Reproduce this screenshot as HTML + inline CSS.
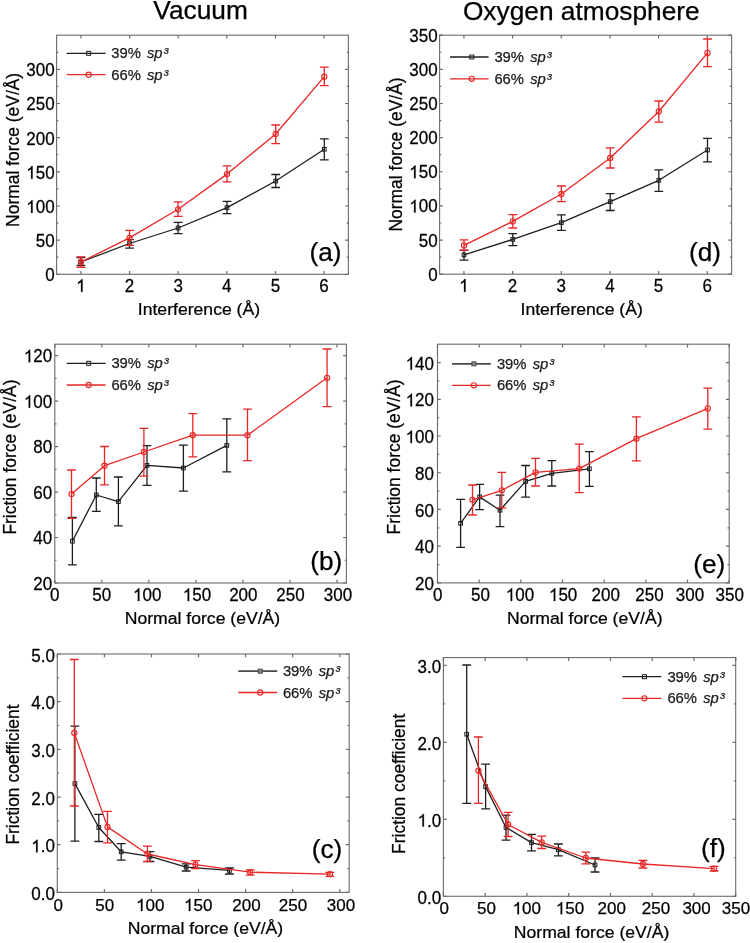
<!DOCTYPE html>
<html><head><meta charset="utf-8"><title>Figure</title>
<style>html,body{margin:0;padding:0;background:#fff}svg{display:block;filter:blur(0.3px)}</style>
</head><body>
<svg width="750" height="943" viewBox="0 0 750 943">
<rect width="750" height="943" fill="#fff"/>
<style>text{font-family:"Liberation Sans",sans-serif;fill:#000;stroke:#000;stroke-width:0.25px}.tk{font-size:17px}.al{font-size:17.45px}.xl{font-size:17.6px}.lg{font-size:14.8px;fill:#1a1a1a;stroke:#1a1a1a}.pl{font-size:26.2px}.tt{font-size:26.3px}</style>
<text x="153.3" y="19.45" class="tt">Vacuum</text>
<text x="462.9" y="19.5" class="tt">Oxygen atmosphere</text>
<path d="M80.92 274.3v-3.3M80.92 35.2v3.3M129.55 274.3v-3.3M129.55 35.2v3.3M178.18 274.3v-3.3M178.18 35.2v3.3M226.82 274.3v-3.3M226.82 35.2v3.3M275.45 274.3v-3.3M275.45 35.2v3.3M324.08 274.3v-3.3M324.08 35.2v3.3M56.6 274.3h3.3M348.4 274.3h-3.3M56.6 240.14h3.3M348.4 240.14h-3.3M56.6 205.99h3.3M348.4 205.99h-3.3M56.6 171.83h3.3M348.4 171.83h-3.3M56.6 137.67h3.3M348.4 137.67h-3.3M56.6 103.51h3.3M348.4 103.51h-3.3M56.6 69.36h3.3M348.4 69.36h-3.3M56.6 257.22h1.72M348.4 257.22h-1.72M56.6 223.06h1.72M348.4 223.06h-1.72M56.6 188.91h1.72M348.4 188.91h-1.72M56.6 154.75h1.72M348.4 154.75h-1.72M56.6 120.59h1.72M348.4 120.59h-1.72M56.6 86.44h1.72M348.4 86.44h-1.72M56.6 52.28h1.72M348.4 52.28h-1.72" stroke="#6b6b6b" stroke-width="1.2" fill="none"/>
<rect x="56.6" y="35.2" width="291.8" height="239.1" fill="none" stroke="#6b6b6b" stroke-width="1.1"/>
<g transform="translate(80.92 291.8) scale(1 1.035)"><text text-anchor="middle" class="tk"> </text><path d="M763 0H583V1147Q518 1085 415 1024Q312 963 223 930V1104Q374 1175 487 1276Q600 1377 647 1472H763Z" transform="translate(-4.73 0) scale(0.008301 -0.008301)" fill="#000" stroke="#000" stroke-width="30.12"/></g>
<g transform="translate(129.55 291.8) scale(1 1.035)"><text text-anchor="middle" class="tk">2</text></g>
<g transform="translate(178.18 291.8) scale(1 1.035)"><text text-anchor="middle" class="tk">3</text></g>
<g transform="translate(226.82 291.8) scale(1 1.035)"><text text-anchor="middle" class="tk">4</text></g>
<g transform="translate(275.45 291.8) scale(1 1.035)"><text text-anchor="middle" class="tk">5</text></g>
<g transform="translate(324.08 291.8) scale(1 1.035)"><text text-anchor="middle" class="tk">6</text></g>
<g transform="translate(54.6 281.2) scale(1 1.035)"><text text-anchor="end" class="tk">0</text></g>
<g transform="translate(54.6 247.04) scale(1 1.035)"><text text-anchor="end" class="tk">50</text></g>
<g transform="translate(54.6 212.89) scale(1 1.035)"><text text-anchor="end" class="tk"> 00</text><path d="M763 0H583V1147Q518 1085 415 1024Q312 963 223 930V1104Q374 1175 487 1276Q600 1377 647 1472H763Z" transform="translate(-28.36 0) scale(0.008301 -0.008301)" fill="#000" stroke="#000" stroke-width="30.12"/></g>
<g transform="translate(54.6 178.73) scale(1 1.035)"><text text-anchor="end" class="tk"> 50</text><path d="M763 0H583V1147Q518 1085 415 1024Q312 963 223 930V1104Q374 1175 487 1276Q600 1377 647 1472H763Z" transform="translate(-28.36 0) scale(0.008301 -0.008301)" fill="#000" stroke="#000" stroke-width="30.12"/></g>
<g transform="translate(54.6 144.57) scale(1 1.035)"><text text-anchor="end" class="tk">200</text></g>
<g transform="translate(54.6 110.41) scale(1 1.035)"><text text-anchor="end" class="tk">250</text></g>
<g transform="translate(54.6 76.26) scale(1 1.035)"><text text-anchor="end" class="tk">300</text></g>
<path d="M463.93 274.2v-3.3M463.93 35.2v3.3M512.6 274.2v-3.3M512.6 35.2v3.3M561.27 274.2v-3.3M561.27 35.2v3.3M609.93 274.2v-3.3M609.93 35.2v3.3M658.6 274.2v-3.3M658.6 35.2v3.3M707.27 274.2v-3.3M707.27 35.2v3.3M439.6 274.2h3.3M731.6 274.2h-3.3M439.6 240.06h3.3M731.6 240.06h-3.3M439.6 205.91h3.3M731.6 205.91h-3.3M439.6 171.77h3.3M731.6 171.77h-3.3M439.6 137.63h3.3M731.6 137.63h-3.3M439.6 103.49h3.3M731.6 103.49h-3.3M439.6 69.34h3.3M731.6 69.34h-3.3M439.6 35.2h3.3M731.6 35.2h-3.3M439.6 257.13h1.72M731.6 257.13h-1.72M439.6 222.99h1.72M731.6 222.99h-1.72M439.6 188.84h1.72M731.6 188.84h-1.72M439.6 154.7h1.72M731.6 154.7h-1.72M439.6 120.56h1.72M731.6 120.56h-1.72M439.6 86.41h1.72M731.6 86.41h-1.72M439.6 52.27h1.72M731.6 52.27h-1.72" stroke="#6b6b6b" stroke-width="1.2" fill="none"/>
<rect x="439.6" y="35.2" width="292" height="239" fill="none" stroke="#6b6b6b" stroke-width="1.1"/>
<g transform="translate(463.93 291.7) scale(1 1.035)"><text text-anchor="middle" class="tk"> </text><path d="M763 0H583V1147Q518 1085 415 1024Q312 963 223 930V1104Q374 1175 487 1276Q600 1377 647 1472H763Z" transform="translate(-4.73 0) scale(0.008301 -0.008301)" fill="#000" stroke="#000" stroke-width="30.12"/></g>
<g transform="translate(512.6 291.7) scale(1 1.035)"><text text-anchor="middle" class="tk">2</text></g>
<g transform="translate(561.27 291.7) scale(1 1.035)"><text text-anchor="middle" class="tk">3</text></g>
<g transform="translate(609.93 291.7) scale(1 1.035)"><text text-anchor="middle" class="tk">4</text></g>
<g transform="translate(658.6 291.7) scale(1 1.035)"><text text-anchor="middle" class="tk">5</text></g>
<g transform="translate(707.27 291.7) scale(1 1.035)"><text text-anchor="middle" class="tk">6</text></g>
<g transform="translate(437.6 280.7) scale(1 1.035)"><text text-anchor="end" class="tk">0</text></g>
<g transform="translate(437.6 246.56) scale(1 1.035)"><text text-anchor="end" class="tk">50</text></g>
<g transform="translate(437.6 212.41) scale(1 1.035)"><text text-anchor="end" class="tk"> 00</text><path d="M763 0H583V1147Q518 1085 415 1024Q312 963 223 930V1104Q374 1175 487 1276Q600 1377 647 1472H763Z" transform="translate(-28.36 0) scale(0.008301 -0.008301)" fill="#000" stroke="#000" stroke-width="30.12"/></g>
<g transform="translate(437.6 178.27) scale(1 1.035)"><text text-anchor="end" class="tk"> 50</text><path d="M763 0H583V1147Q518 1085 415 1024Q312 963 223 930V1104Q374 1175 487 1276Q600 1377 647 1472H763Z" transform="translate(-28.36 0) scale(0.008301 -0.008301)" fill="#000" stroke="#000" stroke-width="30.12"/></g>
<g transform="translate(437.6 144.13) scale(1 1.035)"><text text-anchor="end" class="tk">200</text></g>
<g transform="translate(437.6 109.99) scale(1 1.035)"><text text-anchor="end" class="tk">250</text></g>
<g transform="translate(437.6 75.84) scale(1 1.035)"><text text-anchor="end" class="tk">300</text></g>
<g transform="translate(437.6 41.7) scale(1 1.035)"><text text-anchor="end" class="tk">350</text></g>
<path d="M54.8 583v-3.3M54.8 344.2v3.3M101.83 583v-3.3M101.83 344.2v3.3M148.86 583v-3.3M148.86 344.2v3.3M195.9 583v-3.3M195.9 344.2v3.3M242.93 583v-3.3M242.93 344.2v3.3M289.96 583v-3.3M289.96 344.2v3.3M336.99 583v-3.3M336.99 344.2v3.3M54.8 583h3.3M346.4 583h-3.3M54.8 537.51h3.3M346.4 537.51h-3.3M54.8 492.03h3.3M346.4 492.03h-3.3M54.8 446.54h3.3M346.4 446.54h-3.3M54.8 401.06h3.3M346.4 401.06h-3.3M54.8 355.57h3.3M346.4 355.57h-3.3M54.8 560.26h1.72M346.4 560.26h-1.72M54.8 514.77h1.72M346.4 514.77h-1.72M54.8 469.29h1.72M346.4 469.29h-1.72M54.8 423.8h1.72M346.4 423.8h-1.72M54.8 378.31h1.72M346.4 378.31h-1.72" stroke="#6b6b6b" stroke-width="1.2" fill="none"/>
<rect x="54.8" y="344.2" width="291.6" height="238.8" fill="none" stroke="#6b6b6b" stroke-width="1.1"/>
<g transform="translate(54.8 601) scale(1 1.035)"><text text-anchor="middle" class="tk">0</text></g>
<g transform="translate(101.7 601) scale(1 1.035)"><text text-anchor="middle" class="tk">50</text></g>
<g transform="translate(147.2 601) scale(1 1.035)"><text text-anchor="middle" class="tk"> 00</text><path d="M763 0H583V1147Q518 1085 415 1024Q312 963 223 930V1104Q374 1175 487 1276Q600 1377 647 1472H763Z" transform="translate(-14.18 0) scale(0.008301 -0.008301)" fill="#000" stroke="#000" stroke-width="30.12"/></g>
<g transform="translate(197 601) scale(1 1.035)"><text text-anchor="middle" class="tk"> 50</text><path d="M763 0H583V1147Q518 1085 415 1024Q312 963 223 930V1104Q374 1175 487 1276Q600 1377 647 1472H763Z" transform="translate(-14.18 0) scale(0.008301 -0.008301)" fill="#000" stroke="#000" stroke-width="30.12"/></g>
<g transform="translate(243.3 601) scale(1 1.035)"><text text-anchor="middle" class="tk">200</text></g>
<g transform="translate(290.4 601) scale(1 1.035)"><text text-anchor="middle" class="tk">250</text></g>
<g transform="translate(337.9 601) scale(1 1.035)"><text text-anchor="middle" class="tk">300</text></g>
<g transform="translate(52.2 589.8) scale(1 1.035)"><text text-anchor="end" class="tk">20</text></g>
<g transform="translate(52.2 544.31) scale(1 1.035)"><text text-anchor="end" class="tk">40</text></g>
<g transform="translate(52.2 498.83) scale(1 1.035)"><text text-anchor="end" class="tk">60</text></g>
<g transform="translate(52.2 453.34) scale(1 1.035)"><text text-anchor="end" class="tk">80</text></g>
<g transform="translate(52.2 407.86) scale(1 1.035)"><text text-anchor="end" class="tk"> 00</text><path d="M763 0H583V1147Q518 1085 415 1024Q312 963 223 930V1104Q374 1175 487 1276Q600 1377 647 1472H763Z" transform="translate(-28.36 0) scale(0.008301 -0.008301)" fill="#000" stroke="#000" stroke-width="30.12"/></g>
<g transform="translate(52.2 362.37) scale(1 1.035)"><text text-anchor="end" class="tk"> 20</text><path d="M763 0H583V1147Q518 1085 415 1024Q312 963 223 930V1104Q374 1175 487 1276Q600 1377 647 1472H763Z" transform="translate(-28.36 0) scale(0.008301 -0.008301)" fill="#000" stroke="#000" stroke-width="30.12"/></g>
<path d="M437.5 582.9v-3.3M437.5 344.2v3.3M479.17 582.9v-3.3M479.17 344.2v3.3M520.84 582.9v-3.3M520.84 344.2v3.3M562.51 582.9v-3.3M562.51 344.2v3.3M604.19 582.9v-3.3M604.19 344.2v3.3M645.86 582.9v-3.3M645.86 344.2v3.3M687.53 582.9v-3.3M687.53 344.2v3.3M729.2 582.9v-3.3M729.2 344.2v3.3M437.5 582.9h3.3M729.2 582.9h-3.3M437.5 546.18h3.3M729.2 546.18h-3.3M437.5 509.45h3.3M729.2 509.45h-3.3M437.5 472.73h3.3M729.2 472.73h-3.3M437.5 436.01h3.3M729.2 436.01h-3.3M437.5 399.28h3.3M729.2 399.28h-3.3M437.5 362.56h3.3M729.2 362.56h-3.3M437.5 564.54h1.72M729.2 564.54h-1.72M437.5 527.82h1.72M729.2 527.82h-1.72M437.5 491.09h1.72M729.2 491.09h-1.72M437.5 454.37h1.72M729.2 454.37h-1.72M437.5 417.65h1.72M729.2 417.65h-1.72M437.5 380.92h1.72M729.2 380.92h-1.72" stroke="#6b6b6b" stroke-width="1.2" fill="none"/>
<rect x="437.5" y="344.2" width="291.7" height="238.7" fill="none" stroke="#6b6b6b" stroke-width="1.1"/>
<g transform="translate(437.8 600.9) scale(1 1.035)"><text text-anchor="middle" class="tk">0</text></g>
<g transform="translate(480.5 600.9) scale(1 1.035)"><text text-anchor="middle" class="tk">50</text></g>
<g transform="translate(520 600.9) scale(1 1.035)"><text text-anchor="middle" class="tk"> 00</text><path d="M763 0H583V1147Q518 1085 415 1024Q312 963 223 930V1104Q374 1175 487 1276Q600 1377 647 1472H763Z" transform="translate(-14.18 0) scale(0.008301 -0.008301)" fill="#000" stroke="#000" stroke-width="30.12"/></g>
<g transform="translate(563.1 600.9) scale(1 1.035)"><text text-anchor="middle" class="tk"> 50</text><path d="M763 0H583V1147Q518 1085 415 1024Q312 963 223 930V1104Q374 1175 487 1276Q600 1377 647 1472H763Z" transform="translate(-14.18 0) scale(0.008301 -0.008301)" fill="#000" stroke="#000" stroke-width="30.12"/></g>
<g transform="translate(605.7 600.9) scale(1 1.035)"><text text-anchor="middle" class="tk">200</text></g>
<g transform="translate(649.4 600.9) scale(1 1.035)"><text text-anchor="middle" class="tk">250</text></g>
<g transform="translate(690 600.9) scale(1 1.035)"><text text-anchor="middle" class="tk">300</text></g>
<g transform="translate(729.7 600.9) scale(1 1.035)"><text text-anchor="middle" class="tk">350</text></g>
<g transform="translate(434 590) scale(1 1.035)"><text text-anchor="end" class="tk">20</text></g>
<g transform="translate(434 553.28) scale(1 1.035)"><text text-anchor="end" class="tk">40</text></g>
<g transform="translate(434 516.55) scale(1 1.035)"><text text-anchor="end" class="tk">60</text></g>
<g transform="translate(434 479.83) scale(1 1.035)"><text text-anchor="end" class="tk">80</text></g>
<g transform="translate(434 443.11) scale(1 1.035)"><text text-anchor="end" class="tk"> 00</text><path d="M763 0H583V1147Q518 1085 415 1024Q312 963 223 930V1104Q374 1175 487 1276Q600 1377 647 1472H763Z" transform="translate(-28.36 0) scale(0.008301 -0.008301)" fill="#000" stroke="#000" stroke-width="30.12"/></g>
<g transform="translate(434 406.38) scale(1 1.035)"><text text-anchor="end" class="tk"> 20</text><path d="M763 0H583V1147Q518 1085 415 1024Q312 963 223 930V1104Q374 1175 487 1276Q600 1377 647 1472H763Z" transform="translate(-28.36 0) scale(0.008301 -0.008301)" fill="#000" stroke="#000" stroke-width="30.12"/></g>
<g transform="translate(434 369.66) scale(1 1.035)"><text text-anchor="end" class="tk"> 40</text><path d="M763 0H583V1147Q518 1085 415 1024Q312 963 223 930V1104Q374 1175 487 1276Q600 1377 647 1472H763Z" transform="translate(-28.36 0) scale(0.008301 -0.008301)" fill="#000" stroke="#000" stroke-width="30.12"/></g>
<path d="M57.3 892.4v-3.3M57.3 654v3.3M104.38 892.4v-3.3M104.38 654v3.3M151.46 892.4v-3.3M151.46 654v3.3M198.54 892.4v-3.3M198.54 654v3.3M245.62 892.4v-3.3M245.62 654v3.3M292.7 892.4v-3.3M292.7 654v3.3M339.78 892.4v-3.3M339.78 654v3.3M57.3 892.4h3.3M349.2 892.4h-3.3M57.3 844.72h3.3M349.2 844.72h-3.3M57.3 797.04h3.3M349.2 797.04h-3.3M57.3 749.36h3.3M349.2 749.36h-3.3M57.3 701.68h3.3M349.2 701.68h-3.3M57.3 654h3.3M349.2 654h-3.3M57.3 868.56h1.72M349.2 868.56h-1.72M57.3 820.88h1.72M349.2 820.88h-1.72M57.3 773.2h1.72M349.2 773.2h-1.72M57.3 725.52h1.72M349.2 725.52h-1.72M57.3 677.84h1.72M349.2 677.84h-1.72" stroke="#6b6b6b" stroke-width="1.2" fill="none"/>
<rect x="57.3" y="654" width="291.9" height="238.4" fill="none" stroke="#6b6b6b" stroke-width="1.1"/>
<g transform="translate(58.2 911) scale(1 1.0)"><text text-anchor="middle" class="tk">0</text></g>
<g transform="translate(104.7 911) scale(1 1.0)"><text text-anchor="middle" class="tk">50</text></g>
<g transform="translate(150.3 911) scale(1 1.0)"><text text-anchor="middle" class="tk"> 00</text><path d="M763 0H583V1147Q518 1085 415 1024Q312 963 223 930V1104Q374 1175 487 1276Q600 1377 647 1472H763Z" transform="translate(-14.18 0) scale(0.008301 -0.008301)" fill="#000" stroke="#000" stroke-width="30.12"/></g>
<g transform="translate(198.2 911) scale(1 1.0)"><text text-anchor="middle" class="tk"> 50</text><path d="M763 0H583V1147Q518 1085 415 1024Q312 963 223 930V1104Q374 1175 487 1276Q600 1377 647 1472H763Z" transform="translate(-14.18 0) scale(0.008301 -0.008301)" fill="#000" stroke="#000" stroke-width="30.12"/></g>
<g transform="translate(246.5 911) scale(1 1.0)"><text text-anchor="middle" class="tk">200</text></g>
<g transform="translate(293 911) scale(1 1.0)"><text text-anchor="middle" class="tk">250</text></g>
<g transform="translate(341 911) scale(1 1.0)"><text text-anchor="middle" class="tk">300</text></g>
<g transform="translate(54.9 900) scale(1 1.035)"><text text-anchor="end" class="tk">0.0</text></g>
<g transform="translate(54.9 852.32) scale(1 1.035)"><text text-anchor="end" class="tk"> .0</text><path d="M763 0H583V1147Q518 1085 415 1024Q312 963 223 930V1104Q374 1175 487 1276Q600 1377 647 1472H763Z" transform="translate(-23.63 0) scale(0.008301 -0.008301)" fill="#000" stroke="#000" stroke-width="30.12"/></g>
<g transform="translate(54.9 804.64) scale(1 1.035)"><text text-anchor="end" class="tk">2.0</text></g>
<g transform="translate(54.9 756.96) scale(1 1.035)"><text text-anchor="end" class="tk">3.0</text></g>
<g transform="translate(54.9 709.28) scale(1 1.035)"><text text-anchor="end" class="tk">4.0</text></g>
<g transform="translate(54.9 661.6) scale(1 1.035)"><text text-anchor="end" class="tk">5.0</text></g>
<path d="M443.4 896.3v-3.3M443.4 657.6v3.3M485.16 896.3v-3.3M485.16 657.6v3.3M526.91 896.3v-3.3M526.91 657.6v3.3M568.67 896.3v-3.3M568.67 657.6v3.3M610.43 896.3v-3.3M610.43 657.6v3.3M652.19 896.3v-3.3M652.19 657.6v3.3M693.94 896.3v-3.3M693.94 657.6v3.3M735.7 896.3v-3.3M735.7 657.6v3.3M443.4 896.3h3.3M735.7 896.3h-3.3M443.4 819.3h3.3M735.7 819.3h-3.3M443.4 742.3h3.3M735.7 742.3h-3.3M443.4 665.3h3.3M735.7 665.3h-3.3M443.4 857.8h1.72M735.7 857.8h-1.72M443.4 780.8h1.72M735.7 780.8h-1.72M443.4 703.8h1.72M735.7 703.8h-1.72" stroke="#6b6b6b" stroke-width="1.2" fill="none"/>
<rect x="443.4" y="657.6" width="292.3" height="238.7" fill="none" stroke="#6b6b6b" stroke-width="1.1"/>
<g transform="translate(444.2 914.3) scale(1 1.0)"><text text-anchor="middle" class="tk">0</text></g>
<g transform="translate(486.5 914.3) scale(1 1.0)"><text text-anchor="middle" class="tk">50</text></g>
<g transform="translate(526.8 914.3) scale(1 1.0)"><text text-anchor="middle" class="tk"> 00</text><path d="M763 0H583V1147Q518 1085 415 1024Q312 963 223 930V1104Q374 1175 487 1276Q600 1377 647 1472H763Z" transform="translate(-14.18 0) scale(0.008301 -0.008301)" fill="#000" stroke="#000" stroke-width="30.12"/></g>
<g transform="translate(570 914.3) scale(1 1.0)"><text text-anchor="middle" class="tk"> 50</text><path d="M763 0H583V1147Q518 1085 415 1024Q312 963 223 930V1104Q374 1175 487 1276Q600 1377 647 1472H763Z" transform="translate(-14.18 0) scale(0.008301 -0.008301)" fill="#000" stroke="#000" stroke-width="30.12"/></g>
<g transform="translate(611.8 914.3) scale(1 1.0)"><text text-anchor="middle" class="tk">200</text></g>
<g transform="translate(656 914.3) scale(1 1.0)"><text text-anchor="middle" class="tk">250</text></g>
<g transform="translate(696.6 914.3) scale(1 1.0)"><text text-anchor="middle" class="tk">300</text></g>
<g transform="translate(736 914.3) scale(1 1.0)"><text text-anchor="middle" class="tk">350</text></g>
<g transform="translate(441.2 903.6) scale(1 1.035)"><text text-anchor="end" class="tk">0.0</text></g>
<g transform="translate(441.2 826.6) scale(1 1.035)"><text text-anchor="end" class="tk"> .0</text><path d="M763 0H583V1147Q518 1085 415 1024Q312 963 223 930V1104Q374 1175 487 1276Q600 1377 647 1472H763Z" transform="translate(-23.63 0) scale(0.008301 -0.008301)" fill="#000" stroke="#000" stroke-width="30.12"/></g>
<g transform="translate(441.2 749.6) scale(1 1.035)"><text text-anchor="end" class="tk">2.0</text></g>
<g transform="translate(441.2 672.6) scale(1 1.035)"><text text-anchor="end" class="tk">3.0</text></g>
<polyline points="80.9,262 129.5,243.5 178.1,228 227,207.6 275.7,181 324.3,149.3" fill="none" stroke="#1e1e1e" stroke-width="1.3" stroke-linejoin="round"/>
<path d="M80.9 257.5V265.5M76.5 257.5h8.8M76.5 265.5h8.8M129.5 239.7V248.1M125.1 239.7h8.8M125.1 248.1h8.8M178.1 222.4V233.6M173.7 222.4h8.8M173.7 233.6h8.8M227 201.3V213.7M222.6 201.3h8.8M222.6 213.7h8.8M275.7 174.5V187.5M271.3 174.5h8.8M271.3 187.5h8.8M324.3 138.8V159.8M319.9 138.8h8.8M319.9 159.8h8.8" stroke="#1e1e1e" stroke-width="1.3" fill="none"/>
<rect x="79.05" y="260.15" width="3.7" height="3.7" fill="none" stroke="#1e1e1e" stroke-width="1"/>
<rect x="127.65" y="241.65" width="3.7" height="3.7" fill="none" stroke="#1e1e1e" stroke-width="1"/>
<rect x="176.25" y="226.15" width="3.7" height="3.7" fill="none" stroke="#1e1e1e" stroke-width="1"/>
<rect x="225.15" y="205.75" width="3.7" height="3.7" fill="none" stroke="#1e1e1e" stroke-width="1"/>
<rect x="273.85" y="179.15" width="3.7" height="3.7" fill="none" stroke="#1e1e1e" stroke-width="1"/>
<rect x="322.45" y="147.45" width="3.7" height="3.7" fill="none" stroke="#1e1e1e" stroke-width="1"/>
<polyline points="80.9,262 129.5,237.9 178.1,209.3 227,174.1 275.7,134 324.3,76.7" fill="none" stroke="#e82626" stroke-width="1.3" stroke-linejoin="round"/>
<path d="M80.9 256.8V267.3M76.5 256.8h8.8M76.5 267.3h8.8M129.5 230.4V245.3M125.1 230.4h8.8M125.1 245.3h8.8M178.1 201.8V216.4M173.7 201.8h8.8M173.7 216.4h8.8M227 165.9V181.8M222.6 165.9h8.8M222.6 181.8h8.8M275.7 125V143.6M271.3 125h8.8M271.3 143.6h8.8M324.3 67.2V85.7M319.9 67.2h8.8M319.9 85.7h8.8" stroke="#e82626" stroke-width="1.3" fill="none"/>
<circle cx="80.9" cy="262" r="2.6" fill="none" stroke="#e82626" stroke-width="1.1"/>
<circle cx="129.5" cy="237.9" r="2.6" fill="none" stroke="#e82626" stroke-width="1.1"/>
<circle cx="178.1" cy="209.3" r="2.6" fill="none" stroke="#e82626" stroke-width="1.1"/>
<circle cx="227" cy="174.1" r="2.6" fill="none" stroke="#e82626" stroke-width="1.1"/>
<circle cx="275.7" cy="134" r="2.6" fill="none" stroke="#e82626" stroke-width="1.1"/>
<circle cx="324.3" cy="76.7" r="2.6" fill="none" stroke="#e82626" stroke-width="1.1"/>
<polyline points="464,254.9 512.8,239.4 561.4,222.6 610.2,201.7 658.8,180.3 707.5,150" fill="none" stroke="#1e1e1e" stroke-width="1.3" stroke-linejoin="round"/>
<path d="M464 250.1V260.2M459.6 250.1h8.8M459.6 260.2h8.8M512.8 233.6V245.6M508.4 233.6h8.8M508.4 245.6h8.8M561.4 214.8V230.4M557 214.8h8.8M557 230.4h8.8M610.2 193.7V210.5M605.8 193.7h8.8M605.8 210.5h8.8M658.8 169.8V191.4M654.4 169.8h8.8M654.4 191.4h8.8M707.5 138.3V161.8M703.1 138.3h8.8M703.1 161.8h8.8" stroke="#1e1e1e" stroke-width="1.3" fill="none"/>
<rect x="462.15" y="253.05" width="3.7" height="3.7" fill="none" stroke="#1e1e1e" stroke-width="1"/>
<rect x="510.95" y="237.55" width="3.7" height="3.7" fill="none" stroke="#1e1e1e" stroke-width="1"/>
<rect x="559.55" y="220.75" width="3.7" height="3.7" fill="none" stroke="#1e1e1e" stroke-width="1"/>
<rect x="608.35" y="199.85" width="3.7" height="3.7" fill="none" stroke="#1e1e1e" stroke-width="1"/>
<rect x="656.95" y="178.45" width="3.7" height="3.7" fill="none" stroke="#1e1e1e" stroke-width="1"/>
<rect x="705.65" y="148.15" width="3.7" height="3.7" fill="none" stroke="#1e1e1e" stroke-width="1"/>
<polyline points="464,245.4 512.8,221.4 561.4,194 610.2,158 658.8,111.5 707.5,52.9" fill="none" stroke="#e82626" stroke-width="1.3" stroke-linejoin="round"/>
<path d="M464 239.9V250.4M459.6 239.9h8.8M459.6 250.4h8.8M512.8 214.6V228M508.4 214.6h8.8M508.4 228h8.8M561.4 186V201.6M557 186h8.8M557 201.6h8.8M610.2 147.8V168M605.8 147.8h8.8M605.8 168h8.8M658.8 101V122.2M654.4 101h8.8M654.4 122.2h8.8M707.5 39V66.7M703.1 39h8.8M703.1 66.7h8.8" stroke="#e82626" stroke-width="1.3" fill="none"/>
<circle cx="464" cy="245.4" r="2.6" fill="none" stroke="#e82626" stroke-width="1.1"/>
<circle cx="512.8" cy="221.4" r="2.6" fill="none" stroke="#e82626" stroke-width="1.1"/>
<circle cx="561.4" cy="194" r="2.6" fill="none" stroke="#e82626" stroke-width="1.1"/>
<circle cx="610.2" cy="158" r="2.6" fill="none" stroke="#e82626" stroke-width="1.1"/>
<circle cx="658.8" cy="111.5" r="2.6" fill="none" stroke="#e82626" stroke-width="1.1"/>
<circle cx="707.5" cy="52.9" r="2.6" fill="none" stroke="#e82626" stroke-width="1.1"/>
<polyline points="72.4,541.2 96.3,495 118.4,501.6 147,465.4 183.4,468 226.8,445.4" fill="none" stroke="#1e1e1e" stroke-width="1.3" stroke-linejoin="round"/>
<path d="M72.4 517.5V564.8M68 517.5h8.8M68 564.8h8.8M96.3 478V511.4M91.9 478h8.8M91.9 511.4h8.8M118.4 477V525.9M114 477h8.8M114 525.9h8.8M147 445.6V485.4M142.6 445.6h8.8M142.6 485.4h8.8M183.4 445.1V491.2M179 445.1h8.8M179 491.2h8.8M226.8 418.9V471.8M222.4 418.9h8.8M222.4 471.8h8.8" stroke="#1e1e1e" stroke-width="1.3" fill="none"/>
<rect x="70.55" y="539.35" width="3.7" height="3.7" fill="none" stroke="#1e1e1e" stroke-width="1"/>
<rect x="94.45" y="493.15" width="3.7" height="3.7" fill="none" stroke="#1e1e1e" stroke-width="1"/>
<rect x="116.55" y="499.75" width="3.7" height="3.7" fill="none" stroke="#1e1e1e" stroke-width="1"/>
<rect x="145.15" y="463.55" width="3.7" height="3.7" fill="none" stroke="#1e1e1e" stroke-width="1"/>
<rect x="181.55" y="466.15" width="3.7" height="3.7" fill="none" stroke="#1e1e1e" stroke-width="1"/>
<rect x="224.95" y="443.55" width="3.7" height="3.7" fill="none" stroke="#1e1e1e" stroke-width="1"/>
<polyline points="71.5,494.1 104.5,465.7 143.9,452 192.8,435.2 247.5,435.2 327.1,377.8" fill="none" stroke="#e82626" stroke-width="1.3" stroke-linejoin="round"/>
<path d="M71.5 470V518.4M67.1 470h8.8M67.1 518.4h8.8M104.5 446.5V484.8M100.1 446.5h8.8M100.1 484.8h8.8M143.9 428.3V476.1M139.5 428.3h8.8M139.5 476.1h8.8M192.8 413.7V456.8M188.4 413.7h8.8M188.4 456.8h8.8M247.5 409.2V460.6M243.1 409.2h8.8M243.1 460.6h8.8M327.1 349V406.7M322.7 349h8.8M322.7 406.7h8.8" stroke="#e82626" stroke-width="1.3" fill="none"/>
<circle cx="71.5" cy="494.1" r="2.6" fill="none" stroke="#e82626" stroke-width="1.1"/>
<circle cx="104.5" cy="465.7" r="2.6" fill="none" stroke="#e82626" stroke-width="1.1"/>
<circle cx="143.9" cy="452" r="2.6" fill="none" stroke="#e82626" stroke-width="1.1"/>
<circle cx="192.8" cy="435.2" r="2.6" fill="none" stroke="#e82626" stroke-width="1.1"/>
<circle cx="247.5" cy="435.2" r="2.6" fill="none" stroke="#e82626" stroke-width="1.1"/>
<circle cx="327.1" cy="377.8" r="2.6" fill="none" stroke="#e82626" stroke-width="1.1"/>
<polyline points="460.6,523.3 479.6,496.9 500,510.2 525.6,481.4 551.8,473.3 589.4,468.8" fill="none" stroke="#1e1e1e" stroke-width="1.3" stroke-linejoin="round"/>
<path d="M460.6 499.4V547.3M456.2 499.4h8.8M456.2 547.3h8.8M479.6 484.3V509.6M475.2 484.3h8.8M475.2 509.6h8.8M500 495.1V526.6M495.6 495.1h8.8M495.6 526.6h8.8M525.6 465.5V497.2M521.2 465.5h8.8M521.2 497.2h8.8M551.8 460.6V486M547.4 460.6h8.8M547.4 486h8.8M589.4 451.7V486.3M585 451.7h8.8M585 486.3h8.8" stroke="#1e1e1e" stroke-width="1.3" fill="none"/>
<rect x="458.75" y="521.45" width="3.7" height="3.7" fill="none" stroke="#1e1e1e" stroke-width="1"/>
<rect x="477.75" y="495.05" width="3.7" height="3.7" fill="none" stroke="#1e1e1e" stroke-width="1"/>
<rect x="498.15" y="508.35" width="3.7" height="3.7" fill="none" stroke="#1e1e1e" stroke-width="1"/>
<rect x="523.75" y="479.55" width="3.7" height="3.7" fill="none" stroke="#1e1e1e" stroke-width="1"/>
<rect x="549.95" y="471.45" width="3.7" height="3.7" fill="none" stroke="#1e1e1e" stroke-width="1"/>
<rect x="587.55" y="466.95" width="3.7" height="3.7" fill="none" stroke="#1e1e1e" stroke-width="1"/>
<polyline points="472.5,499.8 501.8,490.3 535.5,472.4 579.2,468.6 636.4,438.7 707.8,408.4" fill="none" stroke="#e82626" stroke-width="1.3" stroke-linejoin="round"/>
<path d="M472.5 485V515M468.1 485h8.8M468.1 515h8.8M501.8 472.4V507.9M497.4 472.4h8.8M497.4 507.9h8.8M535.5 458.4V486M531.1 458.4h8.8M531.1 486h8.8M579.2 444.2V492.7M574.8 444.2h8.8M574.8 492.7h8.8M636.4 416.9V460.9M632 416.9h8.8M632 460.9h8.8M707.8 388.1V429.1M703.4 388.1h8.8M703.4 429.1h8.8" stroke="#e82626" stroke-width="1.3" fill="none"/>
<circle cx="472.5" cy="499.8" r="2.6" fill="none" stroke="#e82626" stroke-width="1.1"/>
<circle cx="501.8" cy="490.3" r="2.6" fill="none" stroke="#e82626" stroke-width="1.1"/>
<circle cx="535.5" cy="472.4" r="2.6" fill="none" stroke="#e82626" stroke-width="1.1"/>
<circle cx="579.2" cy="468.6" r="2.6" fill="none" stroke="#e82626" stroke-width="1.1"/>
<circle cx="636.4" cy="438.7" r="2.6" fill="none" stroke="#e82626" stroke-width="1.1"/>
<circle cx="707.8" cy="408.4" r="2.6" fill="none" stroke="#e82626" stroke-width="1.1"/>
<polyline points="74.9,783.6 98.8,827.5 121.2,851.8 150,856.4 186.2,867.2 229.4,870.4" fill="none" stroke="#1e1e1e" stroke-width="1.3" stroke-linejoin="round"/>
<path d="M74.9 726.1V841.1M70.5 726.1h8.8M70.5 841.1h8.8M98.8 814.4V841.5M94.4 814.4h8.8M94.4 841.5h8.8M121.2 843.7V860.2M116.8 843.7h8.8M116.8 860.2h8.8M150 851.6V861.5M145.6 851.6h8.8M145.6 861.5h8.8M186.2 863.8V871M181.8 863.8h8.8M181.8 871h8.8M229.4 868V874M225 868h8.8M225 874h8.8" stroke="#1e1e1e" stroke-width="1.3" fill="none"/>
<rect x="73.05" y="781.75" width="3.7" height="3.7" fill="none" stroke="#1e1e1e" stroke-width="1"/>
<rect x="96.95" y="825.65" width="3.7" height="3.7" fill="none" stroke="#1e1e1e" stroke-width="1"/>
<rect x="119.35" y="849.95" width="3.7" height="3.7" fill="none" stroke="#1e1e1e" stroke-width="1"/>
<rect x="148.15" y="854.55" width="3.7" height="3.7" fill="none" stroke="#1e1e1e" stroke-width="1"/>
<rect x="184.35" y="865.35" width="3.7" height="3.7" fill="none" stroke="#1e1e1e" stroke-width="1"/>
<rect x="227.55" y="868.55" width="3.7" height="3.7" fill="none" stroke="#1e1e1e" stroke-width="1"/>
<polyline points="74.3,732.9 107.5,826.9 147.4,854 195.5,864.6 250.2,872.2 329.9,874.2" fill="none" stroke="#e82626" stroke-width="1.3" stroke-linejoin="round"/>
<path d="M74.3 659.5V806M69.9 659.5h8.8M69.9 806h8.8M107.5 811.4V842.8M103.1 811.4h8.8M103.1 842.8h8.8M147.4 846.2V861.5M143 846.2h8.8M143 861.5h8.8M195.5 860.6V868.6M191.1 860.6h8.8M191.1 868.6h8.8M250.2 869.8V875.2M245.8 869.8h8.8M245.8 875.2h8.8M329.9 872.4V876.4M325.5 872.4h8.8M325.5 876.4h8.8" stroke="#e82626" stroke-width="1.3" fill="none"/>
<circle cx="74.3" cy="732.9" r="2.6" fill="none" stroke="#e82626" stroke-width="1.1"/>
<circle cx="107.5" cy="826.9" r="2.6" fill="none" stroke="#e82626" stroke-width="1.1"/>
<circle cx="147.4" cy="854" r="2.6" fill="none" stroke="#e82626" stroke-width="1.1"/>
<circle cx="195.5" cy="864.6" r="2.6" fill="none" stroke="#e82626" stroke-width="1.1"/>
<circle cx="250.2" cy="872.2" r="2.6" fill="none" stroke="#e82626" stroke-width="1.1"/>
<circle cx="329.9" cy="874.2" r="2.6" fill="none" stroke="#e82626" stroke-width="1.1"/>
<polyline points="466.7,734.2 485.6,786.6 506,827.5 531.5,842.6 558.4,849.7 595,865" fill="none" stroke="#1e1e1e" stroke-width="1.3" stroke-linejoin="round"/>
<path d="M466.7 665V803.4M462.3 665h8.8M462.3 803.4h8.8M485.6 764.1V808.9M481.2 764.1h8.8M481.2 808.9h8.8M506 815.1V840.2M501.6 815.1h8.8M501.6 840.2h8.8M531.5 834.4V850.9M527.1 834.4h8.8M527.1 850.9h8.8M558.4 844V855.9M554 844h8.8M554 855.9h8.8M595 858V872M590.6 858h8.8M590.6 872h8.8" stroke="#1e1e1e" stroke-width="1.3" fill="none"/>
<rect x="464.85" y="732.35" width="3.7" height="3.7" fill="none" stroke="#1e1e1e" stroke-width="1"/>
<rect x="483.75" y="784.75" width="3.7" height="3.7" fill="none" stroke="#1e1e1e" stroke-width="1"/>
<rect x="504.15" y="825.65" width="3.7" height="3.7" fill="none" stroke="#1e1e1e" stroke-width="1"/>
<rect x="529.65" y="840.75" width="3.7" height="3.7" fill="none" stroke="#1e1e1e" stroke-width="1"/>
<rect x="556.55" y="847.85" width="3.7" height="3.7" fill="none" stroke="#1e1e1e" stroke-width="1"/>
<rect x="593.15" y="863.15" width="3.7" height="3.7" fill="none" stroke="#1e1e1e" stroke-width="1"/>
<polyline points="478.4,770.6 508.1,824.5 541.7,842.4 585.8,858 643,864 714,868.6" fill="none" stroke="#e82626" stroke-width="1.3" stroke-linejoin="round"/>
<path d="M478.4 737V803.4M474 737h8.8M474 803.4h8.8M508.1 812.4V836.5M503.7 812.4h8.8M503.7 836.5h8.8M541.7 836.2V848.5M537.3 836.2h8.8M537.3 848.5h8.8M585.8 852.2V863.9M581.4 852.2h8.8M581.4 863.9h8.8M643 860.4V868M638.6 860.4h8.8M638.6 868h8.8M714 866.4V871M709.6 866.4h8.8M709.6 871h8.8" stroke="#e82626" stroke-width="1.3" fill="none"/>
<circle cx="478.4" cy="770.6" r="2.6" fill="none" stroke="#e82626" stroke-width="1.1"/>
<circle cx="508.1" cy="824.5" r="2.6" fill="none" stroke="#e82626" stroke-width="1.1"/>
<circle cx="541.7" cy="842.4" r="2.6" fill="none" stroke="#e82626" stroke-width="1.1"/>
<circle cx="585.8" cy="858" r="2.6" fill="none" stroke="#e82626" stroke-width="1.1"/>
<circle cx="643" cy="864" r="2.6" fill="none" stroke="#e82626" stroke-width="1.1"/>
<circle cx="714" cy="868.6" r="2.6" fill="none" stroke="#e82626" stroke-width="1.1"/>
<path d="M66.7 53.3H105.6" stroke="#1e1e1e" stroke-width="1.3"/>
<rect x="86.65" y="51.3" width="4" height="4" fill="none" stroke="#1e1e1e" stroke-width="1"/>
<path d="M66.7 74.7H105.6" stroke="#e82626" stroke-width="1.3"/>
<circle cx="88.65" cy="74.7" r="2.6" fill="none" stroke="#e82626" stroke-width="1.1"/>
<text x="111.2" y="58.4" class="lg">39% <tspan font-style="italic" dx="2">sp</tspan><tspan font-style="italic" dx="1">&#179;</tspan></text>
<text x="111.2" y="79.8" class="lg">66% <tspan font-style="italic" dx="2">sp</tspan><tspan font-style="italic" dx="1">&#179;</tspan></text>
<path d="M450 57H488.6" stroke="#1e1e1e" stroke-width="1.3"/>
<rect x="469.8" y="55" width="4" height="4" fill="none" stroke="#1e1e1e" stroke-width="1"/>
<path d="M450 78.8H488.6" stroke="#e82626" stroke-width="1.3"/>
<circle cx="471.8" cy="78.8" r="2.6" fill="none" stroke="#e82626" stroke-width="1.1"/>
<text x="494.4" y="62.1" class="lg">39% <tspan font-style="italic" dx="2">sp</tspan><tspan font-style="italic" dx="1">&#179;</tspan></text>
<text x="494.4" y="83.9" class="lg">66% <tspan font-style="italic" dx="2">sp</tspan><tspan font-style="italic" dx="1">&#179;</tspan></text>
<path d="M66.7 363.3H105.6" stroke="#1e1e1e" stroke-width="1.3"/>
<rect x="86.65" y="361.3" width="4" height="4" fill="none" stroke="#1e1e1e" stroke-width="1"/>
<path d="M66.7 385H105.6" stroke="#e82626" stroke-width="1.3"/>
<circle cx="88.65" cy="385" r="2.6" fill="none" stroke="#e82626" stroke-width="1.1"/>
<text x="111.4" y="368.4" class="lg">39% <tspan font-style="italic" dx="2">sp</tspan><tspan font-style="italic" dx="1">&#179;</tspan></text>
<text x="111.4" y="390.1" class="lg">66% <tspan font-style="italic" dx="2">sp</tspan><tspan font-style="italic" dx="1">&#179;</tspan></text>
<path d="M452 363.8H490.8" stroke="#4a4a4a" stroke-width="1.7"/>
<rect x="471.9" y="361.8" width="4" height="4" fill="#888" stroke="#4a4a4a" stroke-width="1"/>
<path d="M452 385.3H490.8" stroke="#e82626" stroke-width="1.3"/>
<circle cx="473.9" cy="385.3" r="2.6" fill="none" stroke="#e82626" stroke-width="1.1"/>
<text x="496.9" y="368.9" class="lg">39% <tspan font-style="italic" dx="2">sp</tspan><tspan font-style="italic" dx="1">&#179;</tspan></text>
<text x="496.9" y="390.4" class="lg">66% <tspan font-style="italic" dx="2">sp</tspan><tspan font-style="italic" dx="1">&#179;</tspan></text>
<path d="M238.3 671.2H277.2" stroke="#4a4a4a" stroke-width="1.7"/>
<rect x="258.25" y="669.2" width="4" height="4" fill="#888" stroke="#4a4a4a" stroke-width="1"/>
<path d="M238.3 692.5H277.2" stroke="#e82626" stroke-width="1.3"/>
<circle cx="260.25" cy="692.5" r="2.6" fill="none" stroke="#e82626" stroke-width="1.1"/>
<text x="282.9" y="676.3" class="lg">39% <tspan font-style="italic" dx="2">sp</tspan><tspan font-style="italic" dx="1">&#179;</tspan></text>
<text x="282.9" y="697.6" class="lg">66% <tspan font-style="italic" dx="2">sp</tspan><tspan font-style="italic" dx="1">&#179;</tspan></text>
<path d="M622.5 676.7H661.3" stroke="#1e1e1e" stroke-width="1.3"/>
<rect x="642.4" y="674.7" width="4" height="4" fill="none" stroke="#1e1e1e" stroke-width="1"/>
<path d="M622.5 698.3H661.3" stroke="#e82626" stroke-width="1.3"/>
<circle cx="644.4" cy="698.3" r="2.6" fill="none" stroke="#e82626" stroke-width="1.1"/>
<text x="667.4" y="681.8" class="lg">39% <tspan font-style="italic" dx="2">sp</tspan><tspan font-style="italic" dx="1">&#179;</tspan></text>
<text x="667.4" y="703.4" class="lg">66% <tspan font-style="italic" dx="2">sp</tspan><tspan font-style="italic" dx="1">&#179;</tspan></text>
<text transform="translate(19.1 226.9) rotate(-90)" class="al">Normal force (eV/&#197;)</text>
<text transform="translate(402 231.5) rotate(-90)" class="al">Normal force (eV/&#197;)</text>
<text transform="translate(16 534.6) rotate(-90)" class="al">Friction force (eV/&#197;)</text>
<text transform="translate(399.5 534.4) rotate(-90)" class="al">Friction force (eV/&#197;)</text>
<text transform="translate(18.8 844.6) rotate(-90)" class="al">Friction coefficient</text>
<text transform="translate(404.8 853.9) rotate(-90)" class="al">Friction coefficient</text>
<text transform="translate(137.8 315.2) scale(1 0.96)" class="xl">Interference (&#197;)</text>
<text transform="translate(520.5 315.2) scale(1 0.96)" class="xl">Interference (&#197;)</text>
<text transform="translate(124.7 623.8) scale(1 0.96)" class="xl">Normal force (eV/&#197;)</text>
<text transform="translate(507 624) scale(1 0.96)" class="xl">Normal force (eV/&#197;)</text>
<text transform="translate(127.7 934.3) scale(1 0.96)" class="xl">Normal force (eV/&#197;)</text>
<text transform="translate(513.8 937.7) scale(1 0.96)" class="xl">Normal force (eV/&#197;)</text>
<text x="341.6" y="261" text-anchor="end" class="pl">(a)</text>
<text x="721" y="260.8" text-anchor="end" class="pl">(d)</text>
<text x="342.3" y="569.5" text-anchor="end" class="pl">(b)</text>
<text x="725.3" y="572.8" text-anchor="end" class="pl">(e)</text>
<text x="342.3" y="858" text-anchor="end" class="pl">(c)</text>
<text x="725.7" y="857" text-anchor="end" class="pl">(f)</text>
</svg>
</body></html>
